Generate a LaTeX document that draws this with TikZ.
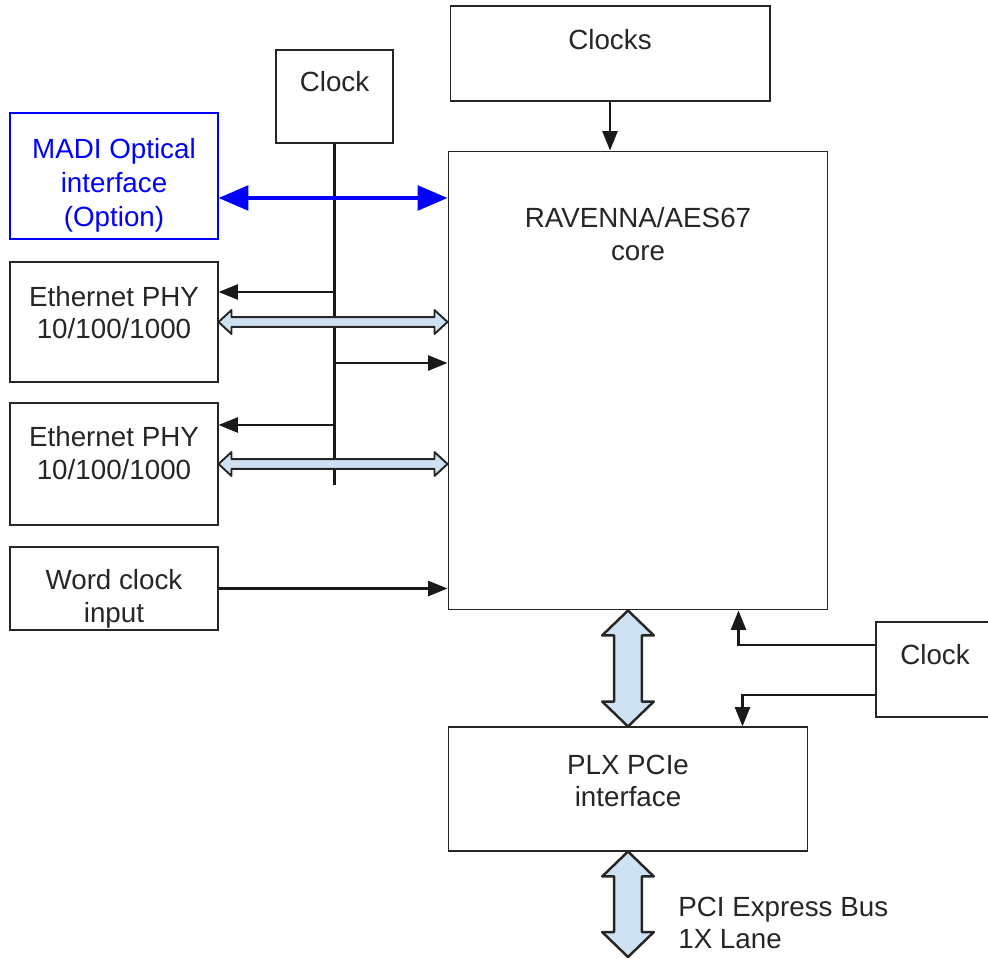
\documentclass[tikz,border=0pt]{standalone}
\usepackage{fontspec}
\setmainfont{Liberation Sans}
\usepackage{xcolor}
\usepackage{tikz}
\usetikzlibrary{arrows.meta, calc}
\definecolor{busblue}{HTML}{CFE2F3}
\definecolor{madiblue}{HTML}{0000FF}

% hollow double arrow: style, from, to, shaft half width, head half width, head length
\newcommand{\busarrow}[6]{%
  \draw[#1] (#2)
    -- ($(#2)!#6!(#3)!#5!90:(#3)$)
    -- ($(#2)!#6!(#3)!#4!90:(#3)$)
    -- ($(#3)!#6!(#2)!#4!-90:(#2)$)
    -- ($(#3)!#6!(#2)!#5!-90:(#2)$)
    -- (#3)
    -- ($(#3)!#6!(#2)!#5!90:(#2)$)
    -- ($(#3)!#6!(#2)!#4!90:(#2)$)
    -- ($(#2)!#6!(#3)!#4!-90:(#3)$)
    -- ($(#2)!#6!(#3)!#5!-90:(#3)$)
    -- cycle;}

\begin{document}
\begin{tikzpicture}[
          x=0.02cm, y=-0.02cm,
          every node/.style={align=center, font=\fontsize{15.8}{18.6}\selectfont, text=black!85},
          block/.style={draw=black!85, line width=0.6pt, inner sep=0pt},
          toptext/.style={anchor=north, inner sep=0pt},
          intext/.style={inner sep=0pt},
          sig/.style={-{Triangle[length=11pt, width=8.5pt]}, line width=1.4pt, black!90},
          madiline/.style={{Triangle[length=17pt, width=14pt]}-{Triangle[length=17pt, width=14pt]}, line width=2.1pt, madiblue},
          bus/.style={draw=black!85, fill=busblue, line width=1.1pt, line join=round},
          fatbus/.style={draw=black!85, fill=busblue, line width=1.4pt, line join=round}
        ]
          \useasboundingbox (0,0) rectangle (988,959);

          % Clock sources
          \node[block, minimum width=6.4cm, minimum height=1.9cm,
                label={[toptext, yshift=-0.48cm]north:Clocks}] (clocks) at (610,53.5) {};
          \node[block, minimum width=2.34cm, minimum height=1.86cm,
                label={[toptext, yshift=-0.44cm]north:Clock}] (clk1) at (334.5,96.5) {};
          \node[block, minimum width=2.36cm, minimum height=1.9cm,
                label={[toptext, yshift=-0.46cm]north:Clock}] (clk2) at (935,669.5) {};

          % Interfaces on the left
          \node[block, draw=madiblue, minimum width=4.16cm, minimum height=2.52cm,
                label={[intext, text=madiblue, yshift=-0.19cm, font=\fontsize{15.8}{19.2}\selectfont]center:MADI Optical\\interface\\(Option)}] (madi) at (114,176) {};
          \node[block, minimum width=4.16cm, minimum height=2.4cm,
                label={[intext, yshift=0.19cm]center:Ethernet PHY\\10/100/1000}] (eth1) at (114,322) {};
          \node[block, minimum width=4.16cm, minimum height=2.44cm,
                label={[intext, yshift=0.22cm]center:Ethernet PHY\\10/100/1000}] (eth2) at (114,464) {};
          \node[block, minimum width=4.16cm, minimum height=1.66cm,
                label={[intext, yshift=-0.2cm]center:Word clock\\input}] (word) at (114,588.5) {};

          % Core and PCIe
          \node[block, minimum width=7.6cm, minimum height=9.18cm,
                label={[toptext, yshift=-1.14cm]north:RAVENNA/AES67\\core}] (core) at (638,380.5) {};
          \node[block, minimum width=7.2cm, minimum height=2.48cm,
                label={[intext, yshift=0.16cm]center:PLX PCIe\\interface}] (plx) at (628,789) {};
          \node[anchor=west, align=left, inner sep=0pt] (pcibus) at (678,923) {PCI Express Bus\\1X Lane};

          % Clock distribution line
          \coordinate (clkend) at (334.5,485);
          \coordinate (tap1) at (334.5,292);
          \coordinate (tap2) at (334.5,363);
          \coordinate (tap3) at (334.5,425);
          \draw[line width=1.4pt, black!90] (clk1.south) -- (clkend);
          \draw[sig] (tap1) -- (tap1 -| eth1.east);
          \draw[sig] (tap2) -- (tap2 -| core.west);
          \draw[sig] (tap3) -- (tap3 -| eth2.east);

          % Arrows
          \coordinate (madiR) at (madi.east |- 0,198);
          \draw[madiline] (madiR) -- (madiR -| core.west);
          \coordinate (eth1R) at (eth1.east -| core.west);
          \coordinate (eth2R) at (eth2.east -| core.west);
          \busarrow{bus}{eth1.east}{eth1R}{2.8pt}{6.8pt}{7.4pt}
          \busarrow{bus}{eth2.east}{eth2R}{2.8pt}{6.8pt}{7.4pt}
          \draw[sig] (word.east) -- (word.east -| core.west);
          \draw[sig] (clocks.south) -- (clocks.south |- core.north);

          \coordinate (busT) at (plx.north |- core.south);
          \coordinate (busB) at (628,957);
          \busarrow{fatbus}{busT}{plx.north}{7.9pt}{14.7pt}{14.2pt}
          \busarrow{fatbus}{plx.south}{busB}{7.9pt}{14.7pt}{14.2pt}

          \coordinate (clk2a) at (clk2.west |- 0,645);
          \coordinate (clk2b) at (clk2.west |- 0,695);
          \draw[sig] (clk2a) -| ($(core.south east)+(-90,0)$);
          \draw[sig] (clk2b) -| ($(plx.north east)+(-66,0)$);
        \end{tikzpicture}
\end{document}
